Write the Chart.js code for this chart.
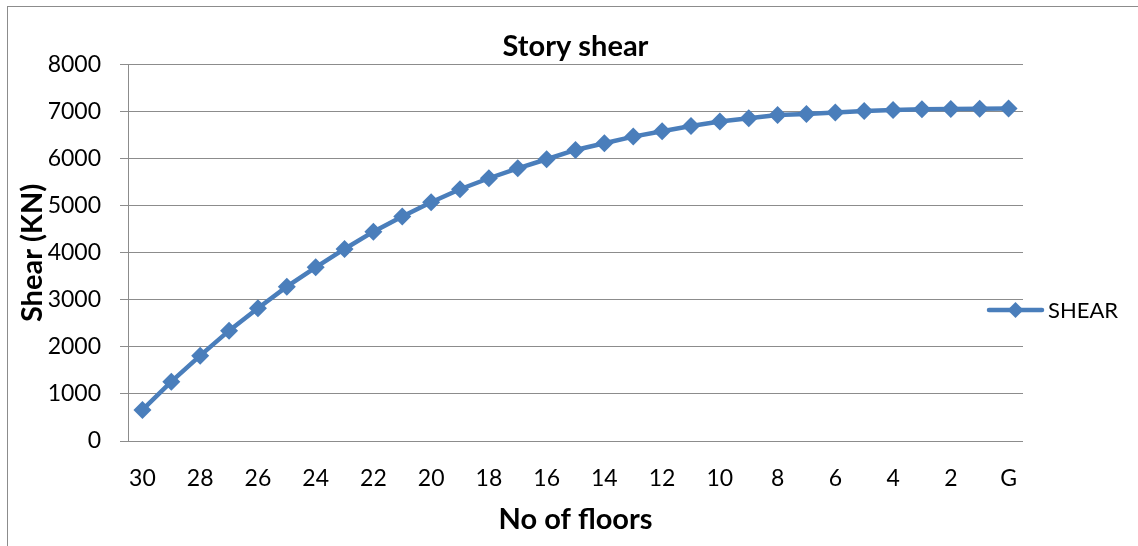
<!DOCTYPE html>
<html>
<head>
<meta charset="utf-8">
<script src="https://cdn.jsdelivr.net/npm/chart.js@4.4.0/dist/chart.umd.min.js"></script>
<style>
  html, body { margin: 0; padding: 0; background: #fff; overflow: hidden; }
  #wrap { position: relative; width: 1138px; height: 546px; }
  #frame { position: absolute; left: 7px; top: 6px; width: 1140px; height: 600px;
           border: 1px solid #8c8c8c; box-sizing: border-box; }
  canvas { position: absolute; left: 0; top: 0; }
</style>
</head>
<body>
<div id="wrap">
  <div id="frame"></div>
  <canvas id="c" width="1138" height="546"></canvas>
</div>
<script>
// Storey labels, roof (30) down to ground (G)
const floors = ['30','29','28','27','26','25','24','23','22','21','20','19','18','17','16',
                '15','14','13','12','11','10','9','8','7','6','5','4','3','2','1','G'];
// Cumulative storey shear (kN)
const shear = [660, 1262, 1815, 2347, 2823, 3283, 3695, 4085, 4453, 4773, 5080, 5355, 5589,
               5801, 5993, 6191, 6332, 6475, 6589, 6702, 6794, 6865, 6936, 6957, 6985, 7021,
               7043, 7057, 7064, 7066, 7071];
const yMin = 0, yMax = 8000, yStep = 1000;

const seriesName = 'SHEAR';
const blue = '#4a7ebb';
const grey = '#8c8c8c';
const fontFamily = 'Lato, "Open Sans", sans-serif';

// Legend entry drawn at the right of the plot: line with a diamond marker
const sideLegend = {
  id: 'sideLegend',
  afterDraw(chart) {
    const ctx = chart.ctx;
    const ds = chart.data.datasets[0];
    const y = 310;
    const x0 = 989, x1 = 1042, xm = (x0 + x1) / 2;
    ctx.save();
    ctx.strokeStyle = ds.borderColor;
    ctx.lineWidth = ds.borderWidth;
    ctx.lineCap = 'round';
    ctx.beginPath();
    ctx.moveTo(x0, y);
    ctx.lineTo(x1, y);
    ctx.stroke();
    ctx.fillStyle = ds.pointBackgroundColor;
    ctx.beginPath();
    ctx.moveTo(xm - 8, y); ctx.lineTo(xm, y - 8); ctx.lineTo(xm + 8, y); ctx.lineTo(xm, y + 8);
    ctx.closePath();
    ctx.fill();
    ctx.fillStyle = '#000';
    ctx.font = '22px ' + fontFamily;
    ctx.textBaseline = 'middle';
    ctx.textAlign = 'left';
    ctx.fillText(ds.label, 1048, y + 1);
    ctx.restore();
  }
};

new Chart(document.getElementById('c'), {
  type: 'line',
  data: {
    labels: floors,
    datasets: [{
      label: seriesName,
      data: shear,
      borderColor: blue,
      backgroundColor: blue,
      borderWidth: 4.5,
      pointStyle: 'rectRot',
      pointRadius: 9,
      pointBackgroundColor: blue,
      pointBorderColor: blue,
      pointBorderWidth: 0,
      tension: 0
    }]
  },
  options: {
    responsive: false,
    animation: false,
    layout: { padding: { top: 6, left: 7, right: 115, bottom: 0 } },
    plugins: {
      legend: { display: false },
      tooltip: { enabled: false },
      title: {
        display: true,
        fullSize: false,
        text: 'Story shear',
        color: '#000',
        font: { family: fontFamily, size: 29, weight: 'bold', lineHeight: 1.1 },
        padding: { top: 25, bottom: 2 }
      }
    },
    scales: {
      x: {
        type: 'category',
        offset: true,
        grid: { display: false },
        border: { display: false },
        ticks: {
          autoSkip: false,
          maxRotation: 0,
          color: '#000',
          font: { family: fontFamily, size: 23 },
          padding: 16,
          callback: function (v, i) { return i % 2 === 0 ? floors[i] : ''; }
        },
        title: {
          display: true,
          text: 'No of floors',
          color: '#000',
          font: { family: fontFamily, size: 29, weight: 'bold', lineHeight: 1.1 },
          padding: { top: 0, bottom: 10 }
        },
        afterFit(scale) { scale.height = 105; }
      },
      y: {
        min: yMin,
        max: yMax,
        grid: { color: grey, lineWidth: 1, drawTicks: true, tickLength: 8, tickColor: grey },
        border: { display: true, color: grey, width: 1 },
        ticks: {
          stepSize: yStep,
          color: '#000',
          font: { family: fontFamily, size: 23 },
          padding: 19,
          callback: function (v) { return String(v); }
        },
        title: {
          display: true,
          text: 'Shear (KN)',
          color: '#000',
          font: { family: fontFamily, size: 29, weight: 'bold', lineHeight: 1.1 },
          padding: { top: 10, bottom: 0 }
        },
        afterFit(scale) { scale.width = 121; }
      }
    }
  },
  plugins: [sideLegend]
});
</script>
</body>
</html>
